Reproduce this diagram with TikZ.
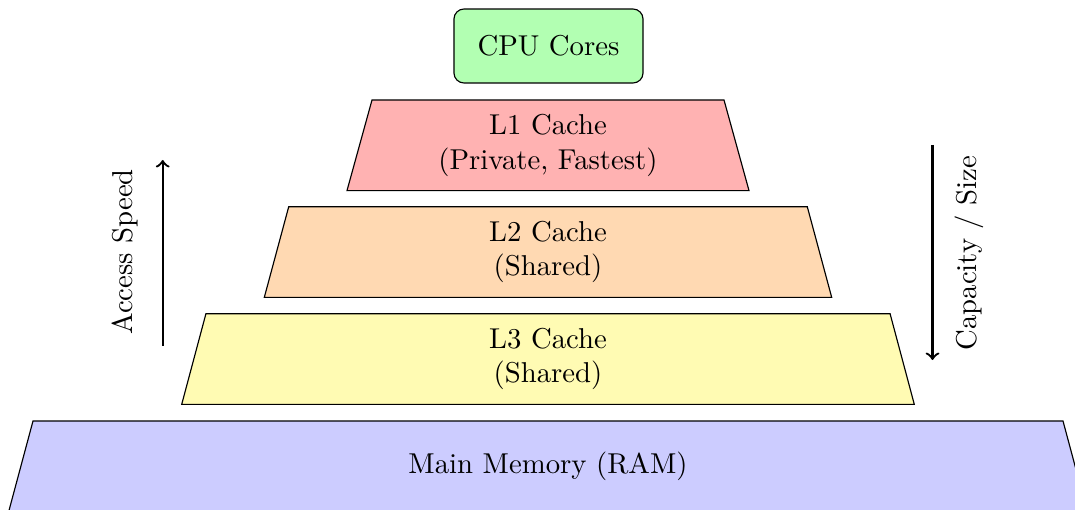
\documentclass[tikz,border=0pt]{standalone}
\tikzset{
  layer/.style={draw=black},
  layertext/.style={align=center, inner sep=0pt},
  core/.style={draw=black, rounded corners=3.5pt, fill=green!30,
    minimum width=65.8pt, minimum height=25.75pt, inner sep=0pt},
  axis/.style={thick, ->},
  axislabel/.style={rotate=90, inner sep=0pt}
}
\begin{document}
\begin{tikzpicture}[x=0.348pt, y=-0.348pt]
  \clip (0,0) rectangle (1075,510);
  % processor at the top
  \node[core] (cpu) at (548.5,46) {CPU Cores};
  % cache levels and memory, widening downwards
  \path[layer, fill=red!30] (347,190.6) -- (372,100) -- (724,100) -- (749,190.6) -- cycle;
  \node[layertext] (l1) at (548,145.3) {L1 Cache\\(Private, Fastest)};
  \path[layer, fill=orange!30] (264.3,297.4) -- (288.7,206.8) -- (807.3,206.8) -- (831.7,297.4) -- cycle;
  \node[layertext] (l2) at (548,252.1) {L2 Cache\\(Shared)};
  \path[layer, fill=yellow!30] (181.7,404.4) -- (205.9,313.8) -- (890.1,313.8) -- (914.3,404.4) -- cycle;
  \node[layertext] (l3) at (548,359.1) {L3 Cache\\(Shared)};
  \path[layer, fill=blue!20] (8.7,511.6) -- (33,421) -- (1063,421) -- (1087.3,511.6) -- cycle;
  \node[layertext] (ram) at (548,466.3) {Main Memory (RAM)};
  % speed axis on the left
  \coordinate (speedlow) at (162.7,345.7);
  \coordinate (speedhigh) at (162.7,160);
  \draw[axis] (speedlow) -- (speedhigh);
  \node[axislabel] (speed) at (124.5,252) {Access Speed};
  % capacity axis on the right
  \coordinate (caplow) at (932.5,145);
  \coordinate (caphigh) at (932.5,360);
  \draw[axis] (caplow) -- (caphigh);
  \node[axislabel] (cap) at (969.5,253) {Capacity / Size};
\end{tikzpicture}
\end{document}
